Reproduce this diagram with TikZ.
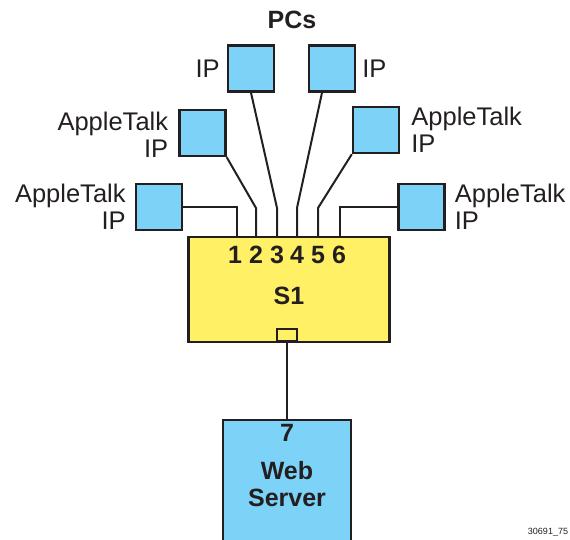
\documentclass[tikz,border=0pt]{standalone}
\usepackage{fontspec}
\setmainfont{Liberation Sans}
\usepackage{xcolor}
\usetikzlibrary{positioning, calc}
\definecolor{pcblue}{RGB}{125,211,247}
\definecolor{swyellow}{RGB}{255,240,102}
\definecolor{ink}{RGB}{35,31,32}

\begin{document}
\begin{tikzpicture}[x=1pt, y=-1pt,
	every node/.style={font=\fontsize{25.5}{27.5}\selectfont, text=ink, inner sep=0pt},
	pc/.style={draw=ink, fill=pcblue, line width=2.4pt, minimum size=46pt},
	wire/.style={draw=ink, line width=2pt},
	boldlbl/.style={font=\fontsize{25}{27.5}\selectfont\bfseries}]
			\clip (0,0) rectangle (570,539);
			
			% switch and uplink port
			\node[draw=ink, fill=swyellow, line width=2.4pt, minimum width=201pt, minimum height=105pt] (s1) at (289,289.5) {};
			\node[boldlbl] (s1lbl) at (289,296) {S1};
			\node[draw=ink, fill=swyellow, line width=2pt, minimum width=20pt, minimum height=12pt, anchor=south] (uplink) at (287,342) {};
			\foreach \n/\x in {1/235,2/256,3/277,4/297,5/318,6/339}
				\node[boldlbl] (num\n) at (\x,255) {\n};
			
			% web server
			\node[draw=ink, fill=pcblue, line width=2pt, minimum width=128pt, minimum height=130pt, anchor=north] (server) at (287,419) {};
			\node[boldlbl] (num7) at (287,433) {7};
			\node[boldlbl, align=center] (srvlbl) at (287,484) {Web\\Server};
			\draw[wire, line width=1.8pt] (uplink.south) -- (server.north);
			
			% PCs
			\node[boldlbl] (pcs) at (292,20) {PCs};
			\node[pc] (pcA) at (251,68.5) {};
			\node[pc] (pcB) at (332,68.5) {};
			\node[pc] (pcC) at (202.5,133) {};
			\node[pc] (pcD) at (376,130) {};
			\node[pc] (pcE) at (159,207) {};
			\node[pc] (pcF) at (421.5,207) {};
			\node[left=7pt of pcA] (ipA) {IP};
			\node[right=6pt of pcB] (ipB) {IP};
			\node[left=10pt of pcC, align=right, yshift=-2pt] (atC) {AppleTalk\\IP};
			\node[right=11pt of pcD, align=left] (atD) {AppleTalk\\IP};
			\node[left=9pt of pcE, align=right] (atE) {AppleTalk\\IP};
			\node[right=9pt of pcF, align=left] (atF) {AppleTalk\\IP};
			
			% port stubs
			\coordinate (p1) at (237,207);
			\coordinate (p2) at (256,208);
			\coordinate (p3) at (277,208);
			\coordinate (p4) at (297,208);
			\coordinate (p5) at (318,208);
			\coordinate (p6) at (340,207);
			\draw[wire] (pcE.east) -- (p1) -- (p1 |- s1.north);
			\draw[wire] (pcC.south east) -- (p2) -- (p2 |- s1.north);
			\draw[wire] (pcA.south) -- (p3) -- (p3 |- s1.north);
			\draw[wire] ([xshift=-10pt]pcB.south) -- (p4) -- (p4 |- s1.north);
			\draw[wire] (pcD.south west) -- (p5) -- (p5 |- s1.north);
			\draw[wire] (pcF.west) -- (p6) -- (p6 |- s1.north);
			
			\node[font=\fontsize{9}{10}\selectfont] (figid) at (548,532) {30691\_75};
		\end{tikzpicture}
\end{document}
